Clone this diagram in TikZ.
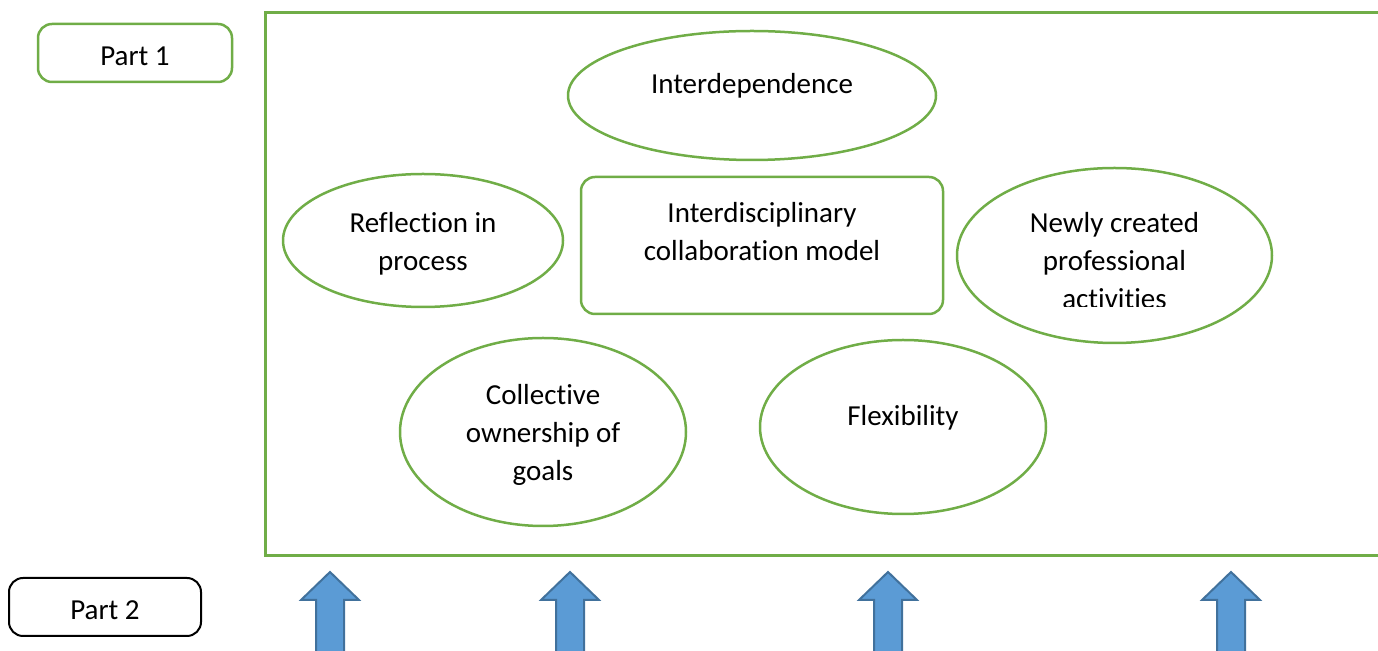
\documentclass[tikz,border=0pt]{standalone}
\usepackage{fontspec}
\setmainfont{Carlito}[Ligatures=NoCommon]
\usetikzlibrary{shapes.geometric}

\definecolor{leaf}{HTML}{70AD47}
\definecolor{sky}{HTML}{5B9BD5}
\definecolor{skyedge}{HTML}{41719C}

\tikzset{
    blob/.style={draw=leaf,line width=1.25pt,ellipse,inner sep=0pt},
    card/.style={draw=leaf,line width=1.25pt,rounded corners=7pt,inner sep=0pt},
    words/.style={align=center,anchor=base,inner sep=0pt,font=\fontsize{14.5}{19}\selectfont},
    uparrow/.style={fill=sky,draw=skyedge,line width=1pt,line join=miter}
}

\begin{document}
\begin{tikzpicture}[x=0.5pt,y=-0.5pt]
    \useasboundingbox (0,0) rectangle (1378,651);
    \clip (0,0) rectangle (1378,651);
    \draw [leaf,line width=1.5pt] (265,12.5) rectangle (1400,556);
    \path (135,53) node [card,minimum width=97pt,minimum height=29pt] (part1) {};
    \path (105,607) node [card,draw=black,line width=1pt,minimum width=96pt,minimum height=29pt] (part2) {};
    \path (135,66) node [words] (part1 text) {Part 1};
    \path (105,620) node [words] (part2 text) {Part 2};
    \path (752,95.5) node [blob,minimum width=184pt,minimum height=64.5pt] (interdep) {};
    \path (423,240.5) node [blob,minimum width=140pt,minimum height=66.5pt] (reflect) {};
    \path (762,245.5) node [card,minimum width=181pt,minimum height=68.5pt] (model) {};
    \path (1114.5,255.5) node [blob,minimum width=157.5pt,minimum height=87.5pt] (newly) {};
    \path (543,432) node [blob,minimum width=143pt,minimum height=94pt] (goals) {};
    \path (903,427) node [blob,minimum width=143pt,minimum height=87pt] (flex) {};
    \path (752,94) node [words] (interdep text) {Interdependence};
    \path (423,271) node [words] (reflect text) {Reflection in\\process};
    \path (762,261) node [words] (model text) {Interdisciplinary\\collaboration model};
    \path (543,481) node [words] (goals text) {Collective\\ownership of\\goals};
    \path (903,426) node [words] (flex text) {Flexibility};
    \begin{scope}
        \clip (960,170) rectangle (1270,307);
        \path (1114.5,309) node [words] (newly text) {Newly created\\professional\\activities};
    \end{scope}
    \foreach \ax in {330,570,888,1231}
        \draw [uparrow] (\ax-14,670) -- (\ax-14,600) -- (\ax-29,600) -- (\ax,572)
            -- (\ax+29,600) -- (\ax+14,600) -- (\ax+14,670) -- cycle;
\end{tikzpicture}
\end{document}
